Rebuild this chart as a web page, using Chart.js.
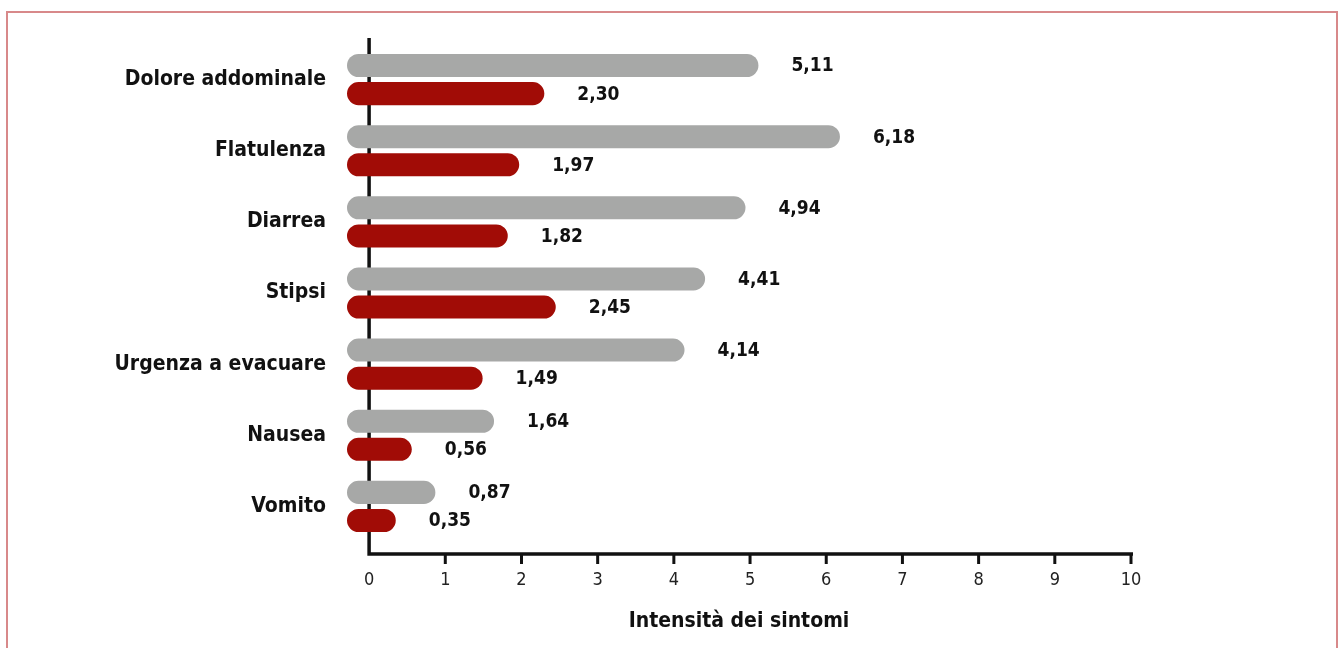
<!DOCTYPE html>
<html lang="it">
<head>
  <meta charset="UTF-8">
  <title>Intensità dei sintomi</title>
  <script src="https://cdn.jsdelivr.net/npm/chart.js"></script>
  <style>
    body { margin: 0; background: #fff; }
    .wrap { position: relative; width: 1341px; height: 648px; }
    .frame {
      position: absolute; left: 6px; top: 11px; width: 1332px; height: 660px;
      box-sizing: border-box; border: 2.5px solid #d8898a; border-bottom: none;
    }
    canvas { position: absolute; left: 0; top: 0; }
  </style>
</head>
<body>
<div class="wrap">
  <div class="frame"></div>
  <canvas id="sintomiChart" width="1341" height="648"></canvas>
</div>

<script>
  // dati
  const sintomi = ['Dolore addominale', 'Flatulenza', 'Diarrea', 'Stipsi', 'Urgenza a evacuare', 'Nausea', 'Vomito'];
  const valoriGrigi = [5.11, 6.18, 4.94, 4.41, 4.14, 1.64, 0.87];
  const valoriRossi = [2.30, 1.97, 1.82, 2.45, 1.49, 0.56, 0.35];
  const tickX = [0, 1, 2, 3, 4, 5, 6, 7, 8, 9, 10];

  const FONT = '"Liberation Sans Narrow", "DejaVu Sans Condensed", "Arial Narrow", sans-serif';
  Chart.defaults.font.family = FONT;
  Chart.defaults.color = '#111';

  // assi disegnati a mano: linea verticale sullo zero, linea orizzontale sotto le barre
  const assi = {
    id: 'assi',
    beforeDatasetsDraw(chart) {
      const ctx = chart.ctx;
      const x = chart.scales.x;
      const area = chart.chartArea;
      const x0 = x.getPixelForValue(0);
      const yBase = area.bottom + 12;
      ctx.save();
      ctx.strokeStyle = '#111';
      ctx.lineWidth = 3.5;
      ctx.beginPath();
      ctx.moveTo(x0, area.top - 6);
      ctx.lineTo(x0, yBase);
      ctx.lineTo(x.getPixelForValue(10) + 2, yBase);
      ctx.stroke();
      ctx.lineWidth = 3;
      tickX.slice(1).forEach(v => {
        const px = x.getPixelForValue(v);
        ctx.beginPath();
        ctx.moveTo(px, yBase);
        ctx.lineTo(px, yBase + 10);
        ctx.stroke();
      });
      ctx.restore();
    }
  };

  // etichette con i valori a destra delle barre
  const etichetteValori = {
    id: 'etichetteValori',
    afterDatasetsDraw(chart) {
      const ctx = chart.ctx;
      ctx.save();
      ctx.font = 'bold 19px ' + FONT;
      ctx.fillStyle = '#111';
      ctx.textBaseline = 'middle';
      chart.data.datasets.forEach((ds, i) => {
        chart.getDatasetMeta(i).data.forEach((bar, j) => {
          ctx.fillText(ds.data[j].toFixed(2).replace('.', ','), bar.x + 33, bar.y + 1);
        });
      });
      ctx.restore();
    }
  };

  const ctx = document.getElementById('sintomiChart').getContext('2d');
  new Chart(ctx, {
    type: 'bar',
    data: {
      labels: sintomi,
      datasets: [
        {
          data: valoriGrigi,
          backgroundColor: '#a7a8a7',
          base: -0.29,
          borderRadius: 12,
          borderSkipped: false,
          categoryPercentage: 0.79,
          barPercentage: 0.82
        },
        {
          data: valoriRossi,
          backgroundColor: '#a10c06',
          base: -0.29,
          borderRadius: 12,
          borderSkipped: false,
          categoryPercentage: 0.79,
          barPercentage: 0.82
        }
      ]
    },
    options: {
      indexAxis: 'y',
      responsive: false,
      animation: false,
      layout: { padding: { top: 44, right: 210, bottom: 0, left: 0 } },
      plugins: {
        legend: { display: false },
        tooltip: { enabled: false }
      },
      scales: {
        x: {
          type: 'linear',
          min: -0.29,
          max: 10,
          afterBuildTicks: s => { s.ticks = tickX.map(v => ({ value: v })); },
          afterFit: s => { s.height = 106; },
          grid: { display: false, drawTicks: false },
          border: { display: false },
          ticks: {
            padding: 28,
            color: '#222',
            font: { size: 18 }
          },
          title: {
            display: true,
            text: 'Intensità dei sintomi',
            color: '#111',
            font: { size: 21, weight: 'bold' },
            padding: { top: 0, bottom: 14 }
          }
        },
        y: {
          offset: true,
          afterFit: s => { s.width = 347; },
          grid: { display: false },
          border: { display: false },
          ticks: {
            padding: 13,
            color: '#111',
            font: { size: 21, weight: 'bold' }
          }
        }
      }
    },
    plugins: [assi, etichetteValori]
  });
</script>
</body>
</html>
